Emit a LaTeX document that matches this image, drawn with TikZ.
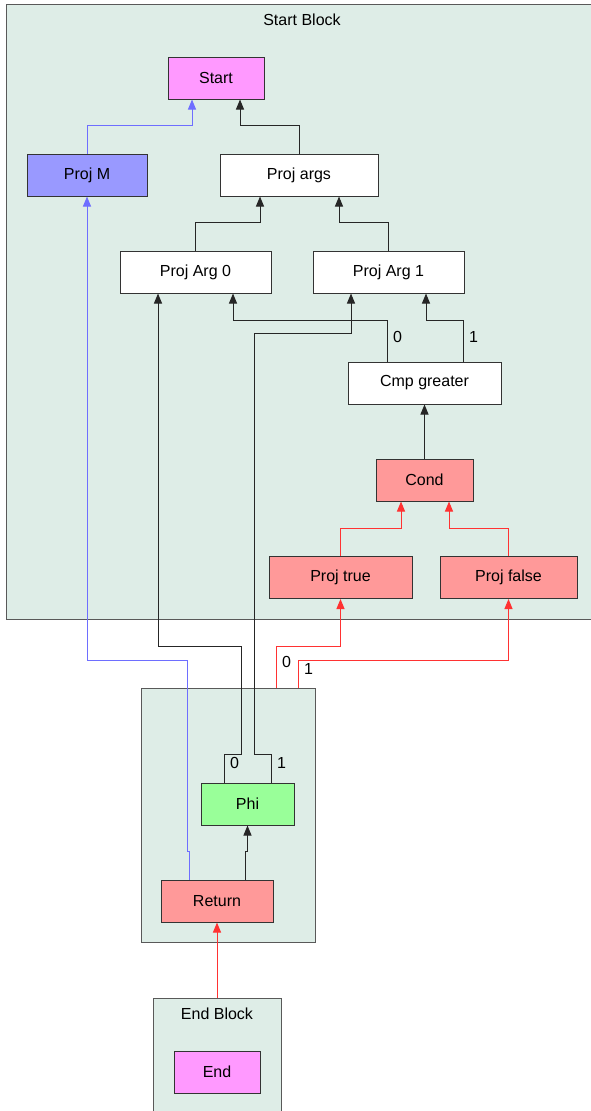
\documentclass[tikz,border=0pt]{standalone}
\usepackage{fontspec}
\setmainfont{Liberation Sans}
\usetikzlibrary{arrows.meta,positioning}
\definecolor{blockfill}{RGB}{222,237,231}
\definecolor{startfill}{RGB}{255,153,255}
\definecolor{projmfill}{RGB}{153,153,255}
\definecolor{ctrlfill}{RGB}{255,153,153}
\definecolor{phifill}{RGB}{153,255,153}
\definecolor{edgeblue}{RGB}{110,110,255}
\definecolor{edgered}{RGB}{255,50,50}
\definecolor{framegray}{gray}{0.35}

\begin{document}
\begin{tikzpicture}[
  x=1pt, y=-1pt,
  font=\fontsize{16}{19}\selectfont,
  block/.style={draw=framegray, fill=blockfill, line width=1pt, inner sep=0pt},
  blocklbl/.style={inner sep=2pt},
  op/.style={draw=black!80, line width=1pt, fill=white, inner sep=0pt,
    minimum height=42pt},
  arr/.style={-{Triangle[length=10pt,width=8pt]}, line width=1pt, draw=black!85},
  arrb/.style={arr, draw=edgeblue},
  arrr/.style={arr, draw=edgered},
  idx/.style={inner sep=0pt, anchor=west, xshift=5.5pt}
]
\useasboundingbox (0,0) rectangle (591,1111);
\clip (0,0) rectangle (591,1111);

% blocks
\node[block, minimum width=592pt, minimum height=615pt] (startBlock) at (302,311.5) {};
\node[blocklbl, below=8pt of startBlock.north] (startLbl) {Start Block};
\node[block, minimum width=174pt, minimum height=254pt] (midBlock) at (228,815) {};
\node[block, minimum width=128pt, minimum height=140pt] (endBlock) at (217,1068) {};
\node[blocklbl, below=8pt of endBlock.north] (endLbl) {End Block};

% start block nodes
\node[op, fill=startfill, minimum width=96pt] (start) at (216,78) {Start};
\node[op, fill=projmfill, minimum width=120pt] (projM) at (87,175) {Proj M};
\node[op, minimum width=158pt] (projArgs) at (299,175) {Proj args};
\node[op, minimum width=151pt] (projArg0) at (195.5,272) {Proj Arg 0};
\node[op, minimum width=151pt] (projArg1) at (388.5,272) {Proj Arg 1};
\node[op, minimum width=153pt] (cmp) at (424.5,383) {Cmp greater};
\node[op, fill=ctrlfill, minimum width=97pt] (cond) at (424.5,480) {Cond};
\node[op, fill=ctrlfill, minimum width=143pt] (projTrue) at (340.5,577.5) {Proj true};
\node[op, fill=ctrlfill, minimum width=137pt] (projFalse) at (508.5,577.5) {Proj false};

% middle block nodes
\node[op, fill=phifill, minimum width=93pt] (phi) at (247.5,804) {Phi};
\node[op, fill=ctrlfill, minimum width=112pt] (ret) at (217,901) {Return};

% end block node
\node[op, fill=startfill, minimum width=86pt] (endn) at (217,1072) {End};

% edges inside start block
\draw[arrb] (projM.north) -- ++(0,-28) -| ([xshift=-24pt]start.south);
\draw[arr] (projArgs.north) -- ++(0,-28) -| ([xshift=24pt]start.south);
\draw[arr] (projArg0.north) -- ++(0,-28) -| ([xshift=-39pt]projArgs.south);
\draw[arr] (projArg1.north) -- ++(0,-28) -| ([xshift=40pt]projArgs.south);
\draw[arr] ([xshift=-37.5pt]cmp.north) -- node[idx, pos=0.6] {0} ++(0,-41)
  -| ([xshift=37.5pt]projArg0.south);
\draw[arr] ([xshift=38.5pt]cmp.north) -- node[idx, pos=0.6] {1} ++(0,-41)
  -| ([xshift=37.5pt]projArg1.south);
\draw[arr] (cond.north) -- (cmp.south);
\draw[arrr] (projTrue.north) -- ++(0,-28) -| ([xshift=-23.5pt]cond.south);
\draw[arrr] (projFalse.north) -- ++(0,-28) -| ([xshift=24.5pt]cond.south);

% edges from the middle block
\draw[arrr] ([xshift=48pt]midBlock.north) -- node[idx, pos=0.63] {0} ++(0,-41)
  -| (projTrue.south);
\draw[arrr] ([xshift=70pt]midBlock.north) -- node[idx, pos=0.7] {1} ++(0,-27)
  -| (projFalse.south);
\draw[arr] ([xshift=-23.5pt]phi.north) -- node[idx, pos=0.7] {0} ++(0,-28)
  -- ++(17,0) -- ++(0,-108) -| ([xshift=-37.5pt]projArg0.south);
\draw[arr] ([xshift=23.5pt]phi.north) -- node[idx, pos=0.7] {1} ++(0,-28)
  -- ++(-17,0) -- ++(0,-421) -| ([xshift=-37.5pt]projArg1.south);
\draw[arr] ([xshift=28pt]ret.north) -- ++(0,-28) -| (phi.south);
\draw[arrb] ([xshift=-28pt]ret.north) -- ++(0,-28) -- ++(-2,0) -- ++(0,-191)
  -| (projM.south);

% edge from the end block
\draw[arrr] (endBlock.north) -- (ret.south);
\end{tikzpicture}
\end{document}
